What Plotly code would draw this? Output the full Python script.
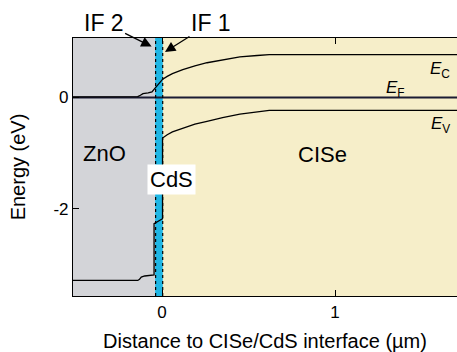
import plotly.graph_objects as go

# Band diagram data (x in µm, energy in eV)
cb_x = [-0.515, -0.14, -0.125, -0.11, -0.08, -0.058, -0.04, -0.031, -0.015, 0.004, 0.03, 0.06,
        0.12, 0.19, 0.26, 0.35, 0.45, 0.55, 0.62, 0.8, 1.0, 1.2, 1.4, 1.71]
cb_y = [0.01, 0.015, 0.04, 0.07, 0.085, 0.1, 0.17, 0.2, 0.26, 0.33, 0.38, 0.43,
        0.5, 0.57, 0.625, 0.68, 0.73, 0.755, 0.77, 0.77, 0.77, 0.77, 0.77, 0.77]

vb_x = [-0.515, -0.14, -0.13, -0.12, -0.1, -0.06, -0.046, -0.046, 0.003, 0.003, 0.03, 0.06,
        0.12, 0.19, 0.26, 0.35, 0.45, 0.55, 0.62, 0.8, 1.0, 1.71]
vb_y = [-3.29, -3.29, -3.27, -3.23, -3.21, -3.2, -3.19, -2.27, -2.18, -0.73, -0.67, -0.62,
        -0.55, -0.48, -0.43, -0.36, -0.3, -0.26, -0.23, -0.23, -0.23, -0.23]

ef_x = [-0.515, 1.71]
ef_y = [0.0, 0.0]

# Layer boundaries (µm)
zno_range = [-0.52, -0.04]
cds_range = [-0.04, 0.005]
cise_range = [0.005, 1.72]
if2_x = -0.037
if1_x = 0.004

x_ticks = [0, 1]
x_ticklabels = ["0", "1"]
y_ticks = [0, -2]
y_ticklabels = ["0", "-2"]

FONT = "Liberation Sans, Arial, sans-serif"

fig = go.Figure()
fig.add_trace(go.Scatter(x=ef_x, y=ef_y, mode="lines",
                         line=dict(color="#1b1b33", width=2), hoverinfo="skip"))
fig.add_trace(go.Scatter(x=cb_x, y=cb_y, mode="lines",
                         line=dict(color="black", width=1.3), hoverinfo="skip"))
fig.add_trace(go.Scatter(x=vb_x, y=vb_y, mode="lines",
                         line=dict(color="black", width=1.3), hoverinfo="skip"))

shapes = [
    dict(type="rect", xref="x", yref="paper", x0=zno_range[0], x1=zno_range[1], y0=0, y1=1,
         fillcolor="#d3d4d8", line=dict(width=0), layer="below"),
    dict(type="rect", xref="x", yref="paper", x0=cds_range[0], x1=cds_range[1], y0=0, y1=1,
         fillcolor="#1fb6e4", line=dict(width=0), layer="below"),
    dict(type="rect", xref="x", yref="paper", x0=cise_range[0], x1=cise_range[1], y0=0, y1=1,
         fillcolor="#f6eec9", line=dict(width=0), layer="below"),
    dict(type="line", xref="x", yref="paper", x0=if2_x, x1=if2_x, y0=0, y1=1,
         line=dict(color="black", width=1.2, dash="dot")),
    dict(type="line", xref="x", yref="paper", x0=if1_x, x1=if1_x, y0=0, y1=1,
         line=dict(color="black", width=1.2, dash="dot")),
]

annotations = [
    dict(x=-0.33, y=-1.0, text="ZnO", showarrow=False, font=dict(size=22, color="black", family=FONT)),
    dict(x=0.93, y=-1.02, text="CISe", showarrow=False, font=dict(size=22, color="black", family=FONT)),
    dict(x=0.055, y=-1.47, text="CdS", showarrow=False, bgcolor="white", borderpad=2,
         font=dict(size=22, color="black", family=FONT)),
    dict(x=1.676, y=0.5, text="<i>E</i><sub>C</sub>", showarrow=False, xanchor="right",
         font=dict(size=17, color="black", family=FONT)),
    dict(x=1.418, y=0.15, text="<i>E</i><sub>F</sub>", showarrow=False, xanchor="right",
         font=dict(size=17, color="black", family=FONT)),
    dict(x=1.676, y=-0.49, text="<i>E</i><sub>V</sub>", showarrow=False, xanchor="right",
         font=dict(size=17, color="black", family=FONT)),
    dict(x=-0.06, y=0.916, ax=-48, ay=-24, text="IF 2", showarrow=True,
         arrowhead=2, arrowsize=1.6, arrowwidth=1.3, arrowcolor="black",
         font=dict(size=23, color="black", family=FONT)),
    dict(x=0.017, y=0.82, ax=46, ay=-29, text="IF 1", showarrow=True,
         arrowhead=2, arrowsize=1.6, arrowwidth=1.3, arrowcolor="black",
         font=dict(size=23, color="black", family=FONT)),
]

fig.update_layout(
    width=457, height=352,
    margin=dict(l=73, r=0, t=38, b=54),
    paper_bgcolor="white", plot_bgcolor="white",
    showlegend=False,
    shapes=shapes, annotations=annotations,
    font=dict(family=FONT, color="black", size=17),
)
fig.update_xaxes(range=[-0.5145, 1.705], tickvals=x_ticks, ticktext=x_ticklabels,
                 ticks="inside", ticklen=6, tickcolor="black", showline=True, linecolor="black",
                 linewidth=1.2, mirror="ticks", showgrid=False, zeroline=False,
                 tickfont=dict(size=17),
                 title=dict(text="Distance to CISe/CdS interface (µm)", font=dict(size=20), standoff=16))
fig.update_yaxes(range=[-3.57, 1.07], tickvals=y_ticks, ticktext=y_ticklabels,
                 ticks="inside", ticklen=6, tickcolor="black", showline=True, linecolor="black",
                 linewidth=1.2, mirror=False, showgrid=False, zeroline=False,
                 tickfont=dict(size=17),
                 title=dict(text="Energy (eV)", font=dict(size=20), standoff=22))

fig.write_html("out.html")
